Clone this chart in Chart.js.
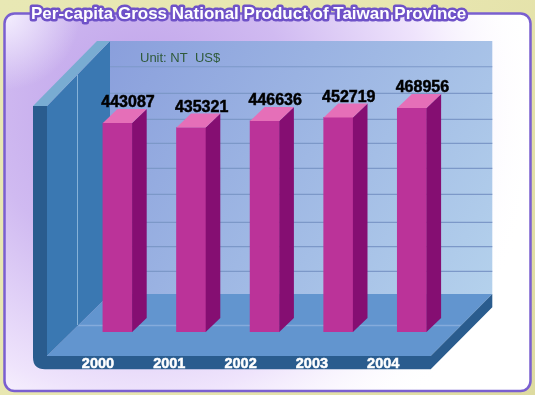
<!DOCTYPE html>
<html lang="en">
<head>
    <meta charset="UTF-8">
    <title>Per-capita Gross National Product of Taiwan Province</title>
    <script src="https://cdn.jsdelivr.net/npm/chart.js"></script>
    <style>
        html, body { margin: 0; padding: 0; background: #e6e6ac; }
        canvas { display: block; }
    </style>
</head>
<body>
    <canvas id="gnpChart" width="535" height="395"></canvas>
    <script>
        const titleText = 'Per-capita Gross National Product of Taiwan Province';
        const unitText = 'Unit: NT  US$';
        const years = ['2000', '2001', '2002', '2003', '2004'];
        const gnpValues = [443087, 435321, 446636, 452719, 468956];
        // axis is not labelled in the picture, only its lines show
        const gridValues = [187400, 229800, 271900, 320100, 365000, 408100, 449500, 494300, 540100];

        function poly(ctx, color, pts) {
            ctx.fillStyle = color;
            ctx.beginPath();
            pts.forEach((p, i) => i ? ctx.lineTo(p[0], p[1]) : ctx.moveTo(p[0], p[1]));
            ctx.closePath();
            ctx.fill();
        }

        // page background, rounded panel, title
        const panelPlugin = {
            id: 'panel',
            beforeDraw(chart) {
                const ctx = chart.ctx;
                ctx.save();
                const page = ctx.createLinearGradient(0, 0, 535, 395);
                page.addColorStop(0, '#e8e8b4');
                page.addColorStop(0.5, '#e8e6b0');
                page.addColorStop(1, '#dedba0');
                ctx.fillStyle = page;
                ctx.fillRect(0, 0, 535, 395);

                ctx.beginPath();
                ctx.roundRect(4.5, 13.5, 526, 377.5, 10);
                ctx.fillStyle = '#ffffff';
                ctx.fill();
                ctx.save();
                ctx.clip();
                let g = ctx.createRadialGradient(140, 110, 20, 140, 110, 400);
                g.addColorStop(0, '#c0a4ea');
                g.addColorStop(0.35, '#d0baf1');
                g.addColorStop(0.7, '#efe4fc');
                g.addColorStop(1, 'rgba(255,255,255,0)');
                ctx.fillStyle = g;
                ctx.fillRect(0, 0, 535, 395);
                g = ctx.createRadialGradient(5, 15, 5, 5, 15, 75);
                g.addColorStop(0, 'rgba(245,240,255,0.9)');
                g.addColorStop(1, 'rgba(245,240,255,0)');
                ctx.fillStyle = g;
                ctx.fillRect(0, 0, 120, 120);
                ctx.restore();
                ctx.lineWidth = 2.5;
                ctx.strokeStyle = '#7a5fd0';
                ctx.stroke();

                ctx.font = 'bold 17px "Liberation Sans", Arial, sans-serif';
                ctx.textAlign = 'left';
                ctx.textBaseline = 'middle';
                ctx.lineJoin = 'round';
                ctx.lineWidth = 5;
                ctx.strokeStyle = '#6f52c8';
                ctx.strokeText(titleText, 31, 14.5);
                ctx.fillStyle = '#ffffff';
                ctx.fillText(titleText, 31, 14.5);
                ctx.restore();
            }
        };

        // walls, floor and grid lines behind the bars
        const scenePlugin = {
            id: 'scene',
            beforeDatasetsDraw(chart) {
                const ctx = chart.ctx;
                const yScale = chart.scales.y;
                const wallL = 110, wallR = 492.3, wallT = 41, wallB = 294;
                const frontL = 47, frontR = 430.7, frontT = 356, frontB = 369.3;
                const edgeL = 33, edgeT = 106;
                ctx.save();

                const wall = ctx.createLinearGradient(wallL, wallT, wallR, wallB);
                wall.addColorStop(0, '#8a9fdc');
                wall.addColorStop(1, '#b4d1ec');
                ctx.fillStyle = wall;
                ctx.fillRect(wallL, wallT, wallR - wallL, wallB - wallT);

                ctx.strokeStyle = '#7c98c8';
                ctx.lineWidth = 1.2;
                gridValues.forEach(v => {
                    const y = yScale.getPixelForValue(v);
                    ctx.beginPath();
                    ctx.moveTo(wallL, y);
                    ctx.lineTo(wallR, y);
                    ctx.stroke();
                });

                // floor
                poly(ctx, '#6295cf', [[frontL, frontT], [wallL, wallB], [wallR, wallB], [frontR, frontT]]);
                ctx.strokeStyle = '#85abdb';
                ctx.lineWidth = 1.5;
                ctx.beginPath();
                ctx.moveTo(77.5, 325.5);
                ctx.lineTo(461, 325.5);
                ctx.stroke();

                // left wall
                poly(ctx, '#3a78b2', [[frontL, edgeT], [wallL, wallT], [wallL, wallB], [frontL, frontT]]);
                poly(ctx, '#79acd2', [[edgeL, edgeT], [frontL, edgeT], [wallL, wallT], [97, wallT]]);
                ctx.strokeStyle = '#86b2d8';
                ctx.lineWidth = 1;
                ctx.beginPath();
                ctx.moveTo(77.5, 75);
                ctx.lineTo(77.5, 325);
                ctx.stroke();

                // front edge
                ctx.fillStyle = '#2a5c8e';
                ctx.beginPath();
                ctx.moveTo(edgeL, edgeT);
                ctx.lineTo(frontL, edgeT);
                ctx.lineTo(frontL, frontT);
                ctx.lineTo(frontR, frontT);
                ctx.lineTo(wallR, wallB);
                ctx.lineTo(wallR, wallB + 13.3);
                ctx.lineTo(frontR, frontB);
                ctx.lineTo(edgeL + 12, frontB);
                ctx.quadraticCurveTo(edgeL, frontB, edgeL, frontB - 12);
                ctx.closePath();
                ctx.fill();

                ctx.fillStyle = '#2f5a3a';
                ctx.font = '13px "Liberation Sans", Arial, sans-serif';
                ctx.textAlign = 'left';
                ctx.textBaseline = 'middle';
                ctx.fillText(unitText, 140, 58.5);

                // year labels sit on the front edge, closer together than the bars
                ctx.fillStyle = '#ffffff';
                ctx.strokeStyle = '#ffffff';
                ctx.lineWidth = 0.5;
                ctx.font = 'bold 14.5px "Liberation Sans", Arial, sans-serif';
                ctx.textAlign = 'center';
                years.forEach((year, i) => {
                    const x = chart.scales.x.getPixelForValue(i) - 19.5 - 2.3 * i;
                    ctx.fillText(year, x, 363.5);
                    ctx.strokeText(year, x, 363.5);
                });
                ctx.restore();
            },
            afterDatasetsDraw(chart) {
                const ctx = chart.ctx;
                const base = chart.chartArea.bottom;
                const dx = 14.6, dy = 14;
                ctx.save();
                chart.getDatasetMeta(0).data.forEach((bar, i) => {
                    const { x, y, width } = bar.getProps(['x', 'y', 'width'], true);
                    const l = x - width / 2, r = x + width / 2;
                    poly(ctx, '#850e72', [[r, y], [r + dx, y - dy], [r + dx, base - dy], [r, base]]);
                    poly(ctx, '#e56fb8', [[l, y], [l + dx, y - dy], [r + dx, y - dy], [r, y]]);
                    ctx.fillStyle = '#000000';
                    ctx.strokeStyle = '#000000';
                    ctx.lineWidth = 0.5;
                    ctx.font = 'bold 16px "Liberation Sans", Arial, sans-serif';
                    ctx.textAlign = 'center';
                    ctx.textBaseline = 'middle';
                    ctx.fillText(String(gnpValues[i]), x + 10.5, y - dy - 6);
                    ctx.strokeText(String(gnpValues[i]), x + 10.5, y - dy - 6);
                });
                ctx.restore();
            }
        };

        new Chart(document.getElementById('gnpChart').getContext('2d'), {
            type: 'bar',
            data: {
                labels: years,
                datasets: [{
                    data: gnpValues,
                    backgroundColor: '#bb3399',
                    borderWidth: 0,
                    barThickness: 29.2
                }]
            },
            options: {
                responsive: false,
                animation: false,
                layout: { padding: { left: 80.7, right: 86.3, top: 41, bottom: 63 } },
                plugins: { legend: { display: false }, tooltip: { enabled: false } },
                scales: {
                    x: { display: false },
                    y: { display: false, min: 82700, max: 584500 }
                }
            },
            plugins: [panelPlugin, scenePlugin]
        });
    </script>
</body>
</html>
